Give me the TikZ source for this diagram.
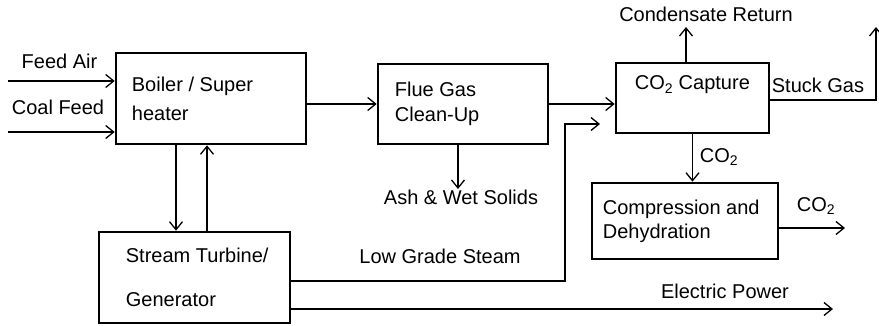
\documentclass[tikz,border=0pt]{standalone}
\usepackage{fontspec}
\setmainfont{Liberation Sans}
\usepackage{tikz}
\usetikzlibrary{arrows.meta, positioning}

\begin{document}
\begin{tikzpicture}[
    x=1pt, y=-1pt,
    box/.style={rectangle, draw, line width=2.6pt},
    txt/.style={anchor=west, inner sep=0pt, align=left, font=\fontsize{20}{24}\selectfont},
    flow/.style={-{Straight Barb[length=8pt, width=13pt]}, line width=1.3pt},
    lbl/.style={inner sep=1pt, font=\fontsize{20}{24}\selectfont},
]
    \useasboundingbox (0,0) rectangle (879,326);

    % Process blocks
    \node[box, minimum width=190pt, minimum height=91pt] (boiler) at (211,98.5) {};
    \node[txt] (boilertxt) at ([xshift=17pt]boiler.west) {Boiler / Super\\[5pt]heater};
    \node[box, minimum width=170pt, minimum height=80pt] (flue) at (463,104) {};
    \node[txt] (fluetxt) at ([xshift=18pt]flue.west) {Flue Gas\\[1pt]Clean-Up};
    \node[box, minimum width=153pt, minimum height=70pt] (capture) at (692.5,98) {};
    \node[txt] (capturetxt) at ([xshift=20pt, yshift=13pt]capture.west) {CO\textsubscript{2} Capture};
    \node[box, minimum width=186pt, minimum height=76pt] (comp) at (685,221) {};
    \node[txt] (comptxt) at ([xshift=12pt]comp.west) {Compression and\\Dehydration};
    \node[box, minimum width=191pt, minimum height=91pt] (turbine) at (194.5,277.5) {};
    \node[txt] (turbinetxt) at ([xshift=28pt]turbine.west) {Stream Turbine/\\[20pt]Generator};

    % Inputs
    \coordinate (fa) at (8,81);
    \coordinate (cf) at (8,132);
    \node[lbl] (falbl) at (59.5,61) {Feed Air};
    \node[lbl] (cflbl) at (58,107) {Coal Feed};
    \draw[flow] (fa) -- (fa -| boiler.west);
    \draw[flow] (cf) -- (cf -| boiler.west);

    % Gas path
    \draw[flow] (boiler.east |- flue.west) -- (flue.west);
    \draw[flow] (flue.east) -- (capture.west |- flue.east);
    \node[lbl, anchor=north] (ash) at (461,189) {Ash \& Wet Solids};
    \draw[flow] (flue.south -| 458,0) -- (ash.north -| 458,0);

    % Capture outputs
    \coordinate (condup) at (686,27);
    \node[lbl] (condlbl) at (706,14) {Condensate Return};
    \draw[flow] (capture.north -| condup) -- (condup);
    \coordinate (stackup) at (876,27);
    \node[lbl] (stacklbl) at (818,85) {Stuck Gas};
    \draw[flow] ([yshift=-2pt]capture.east) -| (stackup);
    \draw[flow] (capture.south) -- (capture.south |- comp.north);
    \node[lbl] (co2a) at (719,157) {CO\textsubscript{2}};
    \coordinate (co2out) at (845,228);
    \draw[flow] (comp.east |- co2out) -- (co2out);
    \node[lbl] (co2b) at (816,206) {CO\textsubscript{2}};

    % Steam loop
    \draw[flow] ([xshift=-35pt]boiler.south) -- ([xshift=-35pt]boiler.south |- turbine.north);
    \draw[flow] ([xshift=-4pt]boiler.south |- turbine.north) -- ([xshift=-4pt]boiler.south);

    % Turbine outputs
    \coordinate (lgs) at (600,124);
    \node[lbl] (lgslbl) at (440,256) {Low Grade Steam};
    \draw[flow] ([yshift=-3.5pt]turbine.east) -| ([xshift=-35pt]lgs) -- (lgs);
    \coordinate (elec) at (833,309);
    \node[lbl] (eleclbl) at (725,291) {Electric Power};
    \draw[flow] (turbine.east |- elec) -- (elec);
\end{tikzpicture}
\end{document}
